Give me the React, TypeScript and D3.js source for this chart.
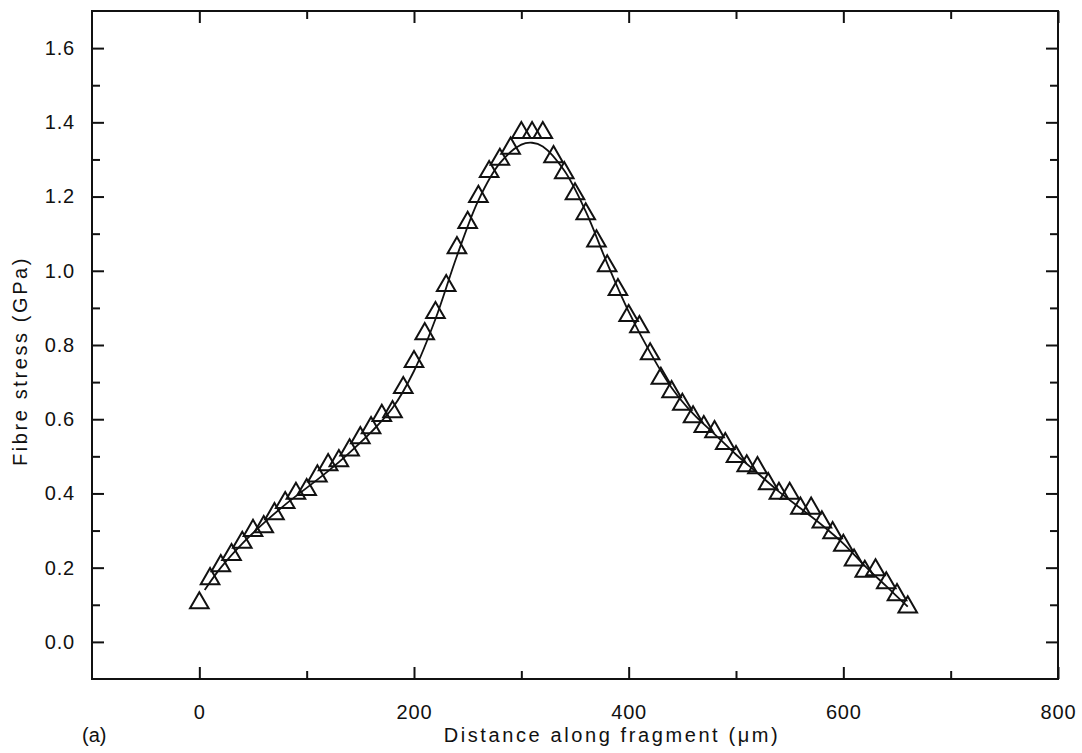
import React, { useEffect, useRef } from 'react';
import * as d3 from 'd3';

// measured points: distance (um) and fibre stress (GPa)
const distances = [
  0, 10, 20, 30, 40, 50, 60, 70, 80, 90, 100, 110, 120, 130, 140, 150, 160, 170, 180, 190,
  200, 210, 220, 230, 240, 250, 260, 270, 280, 290, 300, 310, 320, 330, 340, 350, 360, 370, 380, 390,
  400, 410, 420, 430, 440, 450, 460, 470, 480, 490, 500, 510, 520, 530, 540, 550, 560, 570, 580, 590,
  600, 610, 620, 630, 640, 650, 660,
];
const stresses = [
  0.105, 0.17, 0.205, 0.235, 0.268, 0.3, 0.31, 0.345, 0.375, 0.4, 0.41, 0.447, 0.477, 0.488, 0.517, 0.55, 0.577, 0.61, 0.62, 0.685,
  0.755, 0.83, 0.887, 0.96, 1.062, 1.13, 1.2, 1.267, 1.3, 1.33, 1.372, 1.372, 1.372, 1.307, 1.264, 1.207, 1.153, 1.08, 1.013, 0.949,
  0.879, 0.849, 0.776, 0.71, 0.674, 0.64, 0.606, 0.58, 0.566, 0.534, 0.499, 0.474, 0.469, 0.426, 0.4, 0.4, 0.36, 0.36, 0.323, 0.294,
  0.26, 0.22, 0.19, 0.194, 0.159, 0.127, 0.094,
];

// fitted curve
const fitDistances = [
  5, 20, 40, 60, 80, 100, 120, 140, 160, 180, 200, 220, 240, 260, 280, 300, 310, 320, 340, 360,
  380, 400, 420, 440, 460, 480, 500, 520, 540, 560, 580, 600, 620, 640, 660,
];
const fitStresses = [
  0.14, 0.2, 0.265, 0.32, 0.37, 0.415, 0.46, 0.51, 0.565, 0.63, 0.73, 0.87, 1.04, 1.19, 1.29, 1.34, 1.345, 1.335, 1.27, 1.16,
  1.02, 0.89, 0.78, 0.685, 0.615, 0.56, 0.505, 0.455, 0.405, 0.36, 0.315, 0.265, 0.205, 0.15, 0.095,
];

const xMajor = [0, 200, 400, 600, 800];
const xMinor = [100, 300, 500, 700];
const yMajor = [0, 0.2, 0.4, 0.6, 0.8, 1.0, 1.2, 1.4, 1.6];
const yMinor = [0.1, 0.3, 0.5, 0.7, 0.9, 1.1, 1.3, 1.5];

const FONT = '"Liberation Sans", Arial, Helvetica, sans-serif';
const INK = '#111';

const App = () => {
  const svgRef = useRef<SVGSVGElement>(null);

  useEffect(() => {
    const svg = d3.select(svgRef.current);
    svg.selectAll('*').remove();

    const left = 92, right = 1058, top = 11, bottom = 679;

    const x = d3.scaleLinear().domain([-100, 800]).range([left, right]);
    const y = d3.scaleLinear().domain([-0.1, 1.7]).range([bottom, top]);

    const g = svg.append('g');

    // frame
    g.append('rect')
      .attr('x', left)
      .attr('y', top)
      .attr('width', right - left)
      .attr('height', bottom - top)
      .attr('fill', 'none')
      .attr('stroke', INK)
      .attr('stroke-width', 2);

    const styleAxis = (sel: any) => {
      sel.select('.domain').remove();
      sel.selectAll('line').attr('stroke', INK).attr('stroke-width', 2);
      sel.selectAll('text')
        .attr('fill', INK)
        .style('font-family', FONT)
        .style('font-size', '20px')
        .style('letter-spacing', '0.8px');
    };

    // bottom axis
    g.append('g')
      .attr('transform', `translate(0,${bottom})`)
      .call(d3.axisBottom(x).tickValues(xMajor).tickSize(-12).tickPadding(26).tickFormat(d3.format('d')))
      .call(styleAxis);
    g.append('g')
      .attr('transform', `translate(0,${bottom})`)
      .call(d3.axisBottom(x).tickValues(xMinor).tickSize(-8).tickFormat(() => ''))
      .call(styleAxis);
    // top axis
    g.append('g')
      .attr('transform', `translate(0,${top})`)
      .call(d3.axisTop(x).tickValues(xMajor).tickSize(-12).tickFormat(() => ''))
      .call(styleAxis);
    g.append('g')
      .attr('transform', `translate(0,${top})`)
      .call(d3.axisTop(x).tickValues(xMinor).tickSize(-8).tickFormat(() => ''))
      .call(styleAxis);

    // left axis
    g.append('g')
      .attr('transform', `translate(${left},0)`)
      .call(d3.axisLeft(y).tickValues(yMajor).tickSize(-12).tickPadding(17).tickFormat(d3.format('.1f')))
      .call(styleAxis);
    g.append('g')
      .attr('transform', `translate(${left},0)`)
      .call(d3.axisLeft(y).tickValues(yMinor).tickSize(-8).tickFormat(() => ''))
      .call(styleAxis);
    // right axis
    g.append('g')
      .attr('transform', `translate(${right},0)`)
      .call(d3.axisRight(y).tickValues(yMajor).tickSize(-12).tickFormat(() => ''))
      .call(styleAxis);
    g.append('g')
      .attr('transform', `translate(${right},0)`)
      .call(d3.axisRight(y).tickValues(yMinor).tickSize(-8).tickFormat(() => ''))
      .call(styleAxis);

    // fit line
    const fit = fitDistances.map((d, i) => [d, fitStresses[i]] as [number, number]);
    const line = d3.line<[number, number]>()
      .x(d => x(d[0]))
      .y(d => y(d[1]))
      .curve(d3.curveCatmullRom.alpha(0.5));
    g.append('path')
      .datum(fit)
      .attr('d', line)
      .attr('fill', 'none')
      .attr('stroke', INK)
      .attr('stroke-width', 1.8);

    // triangles
    const tri = d3.symbol().type(d3.symbolTriangle).size(150);
    g.selectAll('.pt')
      .data(distances.map((d, i) => [d, stresses[i]]))
      .enter().append('path')
      .attr('class', 'pt')
      .attr('transform', d => `translate(${x(d[0])},${y(d[1])})`)
      .attr('d', tri())
      .attr('fill', 'none')
      .attr('stroke', INK)
      .attr('stroke-width', 2);

    // axis titles
    svg.append('text')
      .attr('x', 612)
      .attr('y', 742)
      .attr('text-anchor', 'middle')
      .style('font-family', FONT)
      .style('font-size', '20px')
      .style('letter-spacing', '2.6px')
      .attr('fill', INK)
      .text('Distance along fragment (\u03bcm)');

    svg.append('text')
      .attr('transform', 'translate(27,361) rotate(-90)')
      .attr('text-anchor', 'middle')
      .style('font-family', FONT)
      .style('font-size', '20px')
      .style('letter-spacing', '2.6px')
      .attr('fill', INK)
      .text('Fibre stress (GPa)');

    svg.append('text')
      .attr('x', 82)
      .attr('y', 742)
      .style('font-family', FONT)
      .style('font-size', '20px')
      .attr('fill', INK)
      .text('(a)');
  }, []);

  return (
    <svg
      ref={svgRef}
      width={1082}
      height={753}
      style={{ position: 'absolute', left: 0, top: 0, background: '#fff' }}
    />
  );
};

export default App;
